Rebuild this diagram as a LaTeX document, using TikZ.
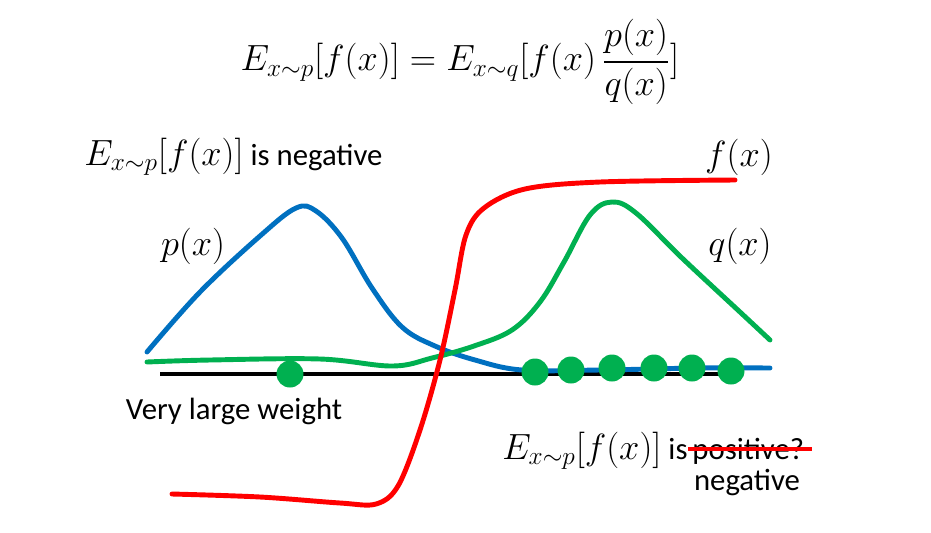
\documentclass[tikz,border=0pt]{standalone}
\usepackage{amsmath}
\usepackage{fontspec}
\setmainfont{Carlito}
\usetikzlibrary{positioning}
\definecolor{PBlue}{RGB}{0,112,192}
\definecolor{QGreen}{RGB}{0,176,80}
\definecolor{FRed}{RGB}{255,0,0}
\newcommand{\bigmath}[1]{{\fontsize{21}{25}\selectfont$#1$}}
\tikzset{
  curve/.style={line width=2.8pt, line cap=round},
  dot/.style={circle, fill=QGreen, inner sep=0pt, minimum size=0.54cm},
  lbl/.style={inner sep=1pt, font=\fontsize{17.5}{21}\selectfont}
}

\begin{document}
\begin{tikzpicture}[x=0.02cm, y=-0.02cm, thick]
        \useasboundingbox (0,0) rectangle (931,532);
        % Formula
        \node[inner sep=1pt, font=\fontsize{19.5}{24}\selectfont] (eq) at (460,62) {$E_{x\sim p}[f(x)] = E_{x\sim q}[f(x)\,\dfrac{p(x)}{q(x)}]$};
        % Axis
        \draw[line width=2pt] (160,374) -- (735,374);
        % p(x)
        \draw[curve, PBlue] plot[smooth, tension=0.6] coordinates {(147,352) (200,292) (260,236) (296,208) (316,211) (342,238) (372,288) (402,327) (435,346) (475,360) (522,370) (600,370) (700,368) (770,368)};
        % q(x)
        \draw[curve, QGreen] plot[smooth, tension=0.6] coordinates {(147,362) (210,360) (320,359) (392,366) (432,358) (474,346) (512,330) (540,302) (564,262) (590,215) (612,202) (636,213) (682,258) (740,312) (770,340)};
        % f(x)
        \draw[curve, FRed] plot[smooth, tension=0.55] coordinates {(172,494) (260,497) (340,503) (376,504) (398,486) (420,430) (440,360) (455,290) (466,235) (484,208) (525,189) (600,182) (735,180)};
        % Samples
        \node[dot] (w0) at (290,374) {};
        \foreach \i/\x/\y in {1/535/372, 2/571/370, 3/612/368, 4/654/368, 5/692/368, 6/731/371} {
            \node[dot] (s\i) at (\x,\y) {};
        }
        % Labels
        \node[lbl, anchor=west] (top) at (82,157) {\bigmath{E_{x\sim p}[f(x)]} is negative};
        \node[lbl, font=\fontsize{20}{24}\selectfont] (px) at (193,246) {$p(x)$};
        \node[lbl, font=\fontsize{20}{24}\selectfont] (qx) at (740,246) {$q(x)$};
        \node[lbl, font=\fontsize{20}{24}\selectfont] (fx) at (739,157) {$f(x)$};
        \node[lbl] (big) at (234,411) {Very large weight};
        \node[lbl, anchor=west] (pos) at (690,451) {positive?};
        \node[lbl, anchor=east] (bot) at (pos.west) {\bigmath{E_{x\sim p}[f(x)]} is};
        \node[lbl] (neg) at (747,483) {negative};
        \draw[FRed, line width=2.4pt] ([xshift=-1pt, yshift=1pt]pos.west) -- ([xshift=3pt, yshift=1pt]pos.east);
    \end{tikzpicture}
\end{document}
